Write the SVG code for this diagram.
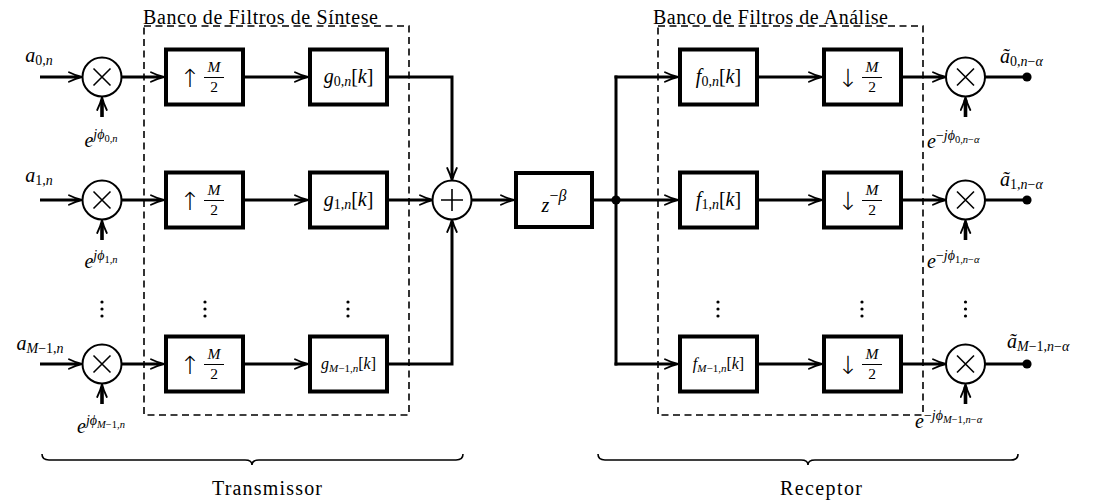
<svg xmlns="http://www.w3.org/2000/svg" width="1096" height="501" viewBox="0 0 1096 501">
<style>
.t{font-family:"Liberation Serif","DejaVu Serif",serif;font-size:20px;fill:#000}
.i{font-style:italic}
.s{font-size:14px}
.ss{font-size:10.5px}
.f{font-size:15.5px}
.sm{font-size:16px}
.sms{font-size:11px}
.ar{font-family:"DejaVu Sans",sans-serif;font-size:25px;font-weight:200;fill:#000}
.box{fill:#fff;stroke:#000;stroke-width:4}
.op{fill:#fff;stroke:#000;stroke-width:2}
.sym{stroke:#000;stroke-width:1.6;fill:none}
.dash{fill:none;stroke:#000;stroke-width:1.6;stroke-dasharray:7 4.5}
.c{fill:none;stroke:#000;stroke-width:3;marker-end:url(#arr)}
.cn{fill:none;stroke:#000;stroke-width:3}
.ph{fill:none;stroke:#000;stroke-width:3.6;marker-end:url(#arr)}
.brace{fill:none;stroke:#000;stroke-width:1.6}
.bar{stroke:#000;stroke-width:1}
</style>
<defs>
<marker id="arr" viewBox="0 0 16 12" markerUnits="userSpaceOnUse" markerWidth="16" markerHeight="12" refX="11" refY="6" orient="auto">
<path d="M1,1.2 Q8,4.6 14,6 Q8,7.4 1,10.8" fill="none" stroke="#000" stroke-width="1.8" stroke-linecap="round"/>
<path d="M6,4.5 L14,6 L6,7.5 Z" fill="#000"/>
</marker>
</defs>

<g id="synthesis-bank">
<rect class="dash" x="144" y="26" width="265" height="389"/>
<text class="t" x="143" y="24" textLength="235">Banco de Filtros de Síntese</text>
</g>
<g id="analysis-bank">
<rect class="dash" x="658" y="26" width="265" height="389"/>
<text class="t" x="653" y="24" textLength="235">Banco de Filtros de Análise</text>
</g>

<g id="connectors">
<path class="c" d="M40,77 H79"/>
<path class="c" d="M40,200 H79"/>
<path class="c" d="M40,364 H79"/>
<path class="ph" d="M102,117 V100"/>
<path class="ph" d="M102,240 V223"/>
<path class="ph" d="M102,404 V387"/>
<path class="c" d="M121.5,77 H161"/>
<path class="c" d="M121.5,200 H161"/>
<path class="c" d="M121.5,364 H161"/>
<path class="c" d="M245,77 H305"/>
<path class="c" d="M245,200 H305"/>
<path class="c" d="M245,364 H305"/>
<path class="c" d="M389,77 H452 V178"/>
<path class="c" d="M389,200 H430"/>
<path class="c" d="M389,364 H452 V222"/>
<path class="c" d="M471.5,200 H511"/>
<path class="cn" d="M594,200 H616"/>
<path class="cn" d="M616,75.5 V365.5"/>
<path class="c" d="M614.5,77 H675"/>
<path class="c" d="M616,200 H675"/>
<path class="c" d="M614.5,364 H675"/>
<path class="c" d="M759,77 H819"/>
<path class="c" d="M759,200 H819"/>
<path class="c" d="M759,364 H819"/>
<path class="c" d="M903,77 H943"/>
<path class="c" d="M903,200 H943"/>
<path class="c" d="M903,364 H943"/>
<path class="cn" d="M985,77 H1027"/>
<path class="cn" d="M985,200 H1027"/>
<path class="cn" d="M985,364 H1027"/>
<path class="ph" d="M965.5,117 V100"/>
<path class="ph" d="M965.5,240 V223"/>
<path class="ph" d="M965.5,404 V387"/>
<circle cx="616" cy="200" r="4.6" fill="#000"/>
<circle cx="1027" cy="77" r="4.6" fill="#000"/>
<circle cx="1027" cy="200" r="4.6" fill="#000"/>
<circle cx="1027" cy="364" r="4.6" fill="#000"/>
</g>

<g id="inputs">
<text class="t" x="39" y="62" text-anchor="middle"><tspan class="i">a</tspan><tspan class="s" dy="3">0,</tspan><tspan class="s i">n</tspan></text>
<text class="t" x="39" y="182" text-anchor="middle"><tspan class="i">a</tspan><tspan class="s" dy="3">1,</tspan><tspan class="s i">n</tspan></text>
<text class="t" x="40" y="350" text-anchor="middle"><tspan class="i">a</tspan><tspan class="s i" dy="3">M</tspan><tspan class="s">−1,</tspan><tspan class="s i">n</tspan></text>
</g>

<g id="mult-tx-0">
<circle class="op" cx="102" cy="77" r="19.5"/>
<path class="sym" d="M93.5,68.5 L110.5,85.5 M110.5,68.5 L93.5,85.5"/>
<text class="t" x="101" y="147" text-anchor="middle"><tspan class="i">e</tspan><tspan class="s i" dy="-8">jϕ</tspan><tspan class="ss" dy="3">0,</tspan><tspan class="ss i">n</tspan></text>
</g>
<g id="mult-tx-1">
<circle class="op" cx="102" cy="200" r="19.5"/>
<path class="sym" d="M93.5,191.5 L110.5,208.5 M110.5,191.5 L93.5,208.5"/>
<text class="t" x="101" y="268" text-anchor="middle"><tspan class="i">e</tspan><tspan class="s i" dy="-8">jϕ</tspan><tspan class="ss" dy="3">1,</tspan><tspan class="ss i">n</tspan></text>
</g>
<g id="mult-tx-2">
<circle class="op" cx="102" cy="364" r="19.5"/>
<path class="sym" d="M93.5,355.5 L110.5,372.5 M110.5,355.5 L93.5,372.5"/>
<text class="t" x="101" y="433" text-anchor="middle"><tspan class="i">e</tspan><tspan class="s i" dy="-8">jϕ</tspan><tspan class="ss i" dy="3">M</tspan><tspan class="ss">−1,</tspan><tspan class="ss i">n</tspan></text>
</g>

<g id="up-0">
<rect class="box" x="166" y="49.5" width="77" height="55"/>
<text class="ar" x="190" y="87" text-anchor="middle">↑</text>
<text class="t f i" x="214" y="72" text-anchor="middle">M</text>
<line class="bar" x1="204" y1="77.5" x2="224" y2="77.5"/>
<text class="t f" x="214" y="92" text-anchor="middle">2</text>
</g>
<g id="up-1">
<rect class="box" x="166" y="172.5" width="77" height="55"/>
<text class="ar" x="190" y="210" text-anchor="middle">↑</text>
<text class="t f i" x="214" y="195" text-anchor="middle">M</text>
<line class="bar" x1="204" y1="200.5" x2="224" y2="200.5"/>
<text class="t f" x="214" y="215" text-anchor="middle">2</text>
</g>
<g id="up-2">
<rect class="box" x="166" y="336.5" width="77" height="55"/>
<text class="ar" x="190" y="374" text-anchor="middle">↑</text>
<text class="t f i" x="214" y="359" text-anchor="middle">M</text>
<line class="bar" x1="204" y1="364.5" x2="224" y2="364.5"/>
<text class="t f" x="214" y="379" text-anchor="middle">2</text>
</g>

<g id="g-0">
<rect class="box" x="310" y="49.5" width="77" height="55"/>
<text class="t" x="348.5" y="83" text-anchor="middle"><tspan class="i">g</tspan><tspan class="s" dy="3">0,</tspan><tspan class="s i">n</tspan><tspan dy="-3">[</tspan><tspan class="i">k</tspan><tspan>]</tspan></text>
</g>
<g id="g-1">
<rect class="box" x="310" y="172.5" width="77" height="55"/>
<text class="t" x="348.5" y="206" text-anchor="middle"><tspan class="i">g</tspan><tspan class="s" dy="3">1,</tspan><tspan class="s i">n</tspan><tspan dy="-3">[</tspan><tspan class="i">k</tspan><tspan>]</tspan></text>
</g>
<g id="g-2">
<rect class="box" x="310" y="336.5" width="77" height="55"/>
<text class="t sm" x="348.5" y="369" text-anchor="middle"><tspan class="i">g</tspan><tspan class="sms i" dy="2.5">M</tspan><tspan class="sms">−1,</tspan><tspan class="sms i">n</tspan><tspan dy="-2.5">[</tspan><tspan class="i">k</tspan><tspan>]</tspan></text>
</g>

<g id="adder">
<circle class="op" cx="452" cy="200" r="19.5"/>
<path class="sym" d="M441,200 H463 M452,189 V211"/>
</g>

<g id="delay">
<rect class="box" x="516" y="173" width="76" height="54"/>
<text class="t" x="554" y="212" text-anchor="middle" font-size="23"><tspan class="i">z</tspan><tspan font-size="16" dy="-11">−</tspan><tspan font-size="16" class="i">β</tspan></text>
</g>

<g id="f-0">
<rect class="box" x="680" y="49.5" width="77" height="55"/>
<text class="t" x="718.5" y="83" text-anchor="middle"><tspan class="i">f</tspan><tspan class="s" dy="3">0,</tspan><tspan class="s i">n</tspan><tspan dy="-3">[</tspan><tspan class="i">k</tspan><tspan>]</tspan></text>
</g>
<g id="f-1">
<rect class="box" x="680" y="172.5" width="77" height="55"/>
<text class="t" x="718.5" y="206" text-anchor="middle"><tspan class="i">f</tspan><tspan class="s" dy="3">1,</tspan><tspan class="s i">n</tspan><tspan dy="-3">[</tspan><tspan class="i">k</tspan><tspan>]</tspan></text>
</g>
<g id="f-2">
<rect class="box" x="680" y="336.5" width="77" height="55"/>
<text class="t sm" x="718.5" y="369" text-anchor="middle"><tspan class="i">f</tspan><tspan class="sms i" dy="2.5">M</tspan><tspan class="sms">−1,</tspan><tspan class="sms i">n</tspan><tspan dy="-2.5">[</tspan><tspan class="i">k</tspan><tspan>]</tspan></text>
</g>

<g id="down-0">
<rect class="box" x="824" y="49.5" width="77" height="55"/>
<text class="ar" x="848" y="87" text-anchor="middle">↓</text>
<text class="t f i" x="872" y="72" text-anchor="middle">M</text>
<line class="bar" x1="862" y1="77.5" x2="882" y2="77.5"/>
<text class="t f" x="872" y="92" text-anchor="middle">2</text>
</g>
<g id="down-1">
<rect class="box" x="824" y="172.5" width="77" height="55"/>
<text class="ar" x="848" y="210" text-anchor="middle">↓</text>
<text class="t f i" x="872" y="195" text-anchor="middle">M</text>
<line class="bar" x1="862" y1="200.5" x2="882" y2="200.5"/>
<text class="t f" x="872" y="215" text-anchor="middle">2</text>
</g>
<g id="down-2">
<rect class="box" x="824" y="336.5" width="77" height="55"/>
<text class="ar" x="848" y="374" text-anchor="middle">↓</text>
<text class="t f i" x="872" y="359" text-anchor="middle">M</text>
<line class="bar" x1="862" y1="364.5" x2="882" y2="364.5"/>
<text class="t f" x="872" y="379" text-anchor="middle">2</text>
</g>

<g id="mult-rx-0">
<circle class="op" cx="965.5" cy="77" r="19.5"/>
<path class="sym" d="M957,68.5 L974,85.5 M974,68.5 L957,85.5"/>
<text class="t" x="927" y="148"><tspan class="i">e</tspan><tspan class="s" dy="-8">−</tspan><tspan class="s i">jϕ</tspan><tspan class="ss" dy="3">0,</tspan><tspan class="ss i">n</tspan><tspan class="ss">−</tspan><tspan class="ss i">α</tspan></text>
</g>
<g id="mult-rx-1">
<circle class="op" cx="965.5" cy="200" r="19.5"/>
<path class="sym" d="M957,191.5 L974,208.5 M974,191.5 L957,208.5"/>
<text class="t" x="927" y="268"><tspan class="i">e</tspan><tspan class="s" dy="-8">−</tspan><tspan class="s i">jϕ</tspan><tspan class="ss" dy="3">1,</tspan><tspan class="ss i">n</tspan><tspan class="ss">−</tspan><tspan class="ss i">α</tspan></text>
</g>
<g id="mult-rx-2">
<circle class="op" cx="965.5" cy="364" r="19.5"/>
<path class="sym" d="M957,355.5 L974,372.5 M974,355.5 L957,372.5"/>
<text class="t" x="915" y="428"><tspan class="i">e</tspan><tspan class="s" dy="-8">−</tspan><tspan class="s i">jϕ</tspan><tspan class="ss i" dy="3">M</tspan><tspan class="ss">−1,</tspan><tspan class="ss i">n</tspan><tspan class="ss">−</tspan><tspan class="ss i">α</tspan></text>
</g>

<g id="outputs">
<text class="t" x="1000" y="63"><tspan class="i">ã</tspan><tspan class="s" dy="3">0,</tspan><tspan class="s i">n</tspan><tspan class="s">−</tspan><tspan class="s i">α</tspan></text>
<text class="t" x="1000" y="186"><tspan class="i">ã</tspan><tspan class="s" dy="3">1,</tspan><tspan class="s i">n</tspan><tspan class="s">−</tspan><tspan class="s i">α</tspan></text>
<text class="t" x="1007" y="348"><tspan class="i">ã</tspan><tspan class="s i" dy="3">M</tspan><tspan class="s">−1,</tspan><tspan class="s i">n</tspan><tspan class="s">−</tspan><tspan class="s i">α</tspan></text>
</g>

<g id="vdots" fill="#000">
<circle cx="102" cy="302" r="1.6"/><circle cx="102" cy="309" r="1.6"/><circle cx="102" cy="316" r="1.6"/>
<circle cx="205" cy="302" r="1.6"/><circle cx="205" cy="309" r="1.6"/><circle cx="205" cy="316" r="1.6"/>
<circle cx="348" cy="302" r="1.6"/><circle cx="348" cy="309" r="1.6"/><circle cx="348" cy="316" r="1.6"/>
<circle cx="718" cy="302" r="1.6"/><circle cx="718" cy="309" r="1.6"/><circle cx="718" cy="316" r="1.6"/>
<circle cx="862" cy="302" r="1.6"/><circle cx="862" cy="309" r="1.6"/><circle cx="862" cy="316" r="1.6"/>
<circle cx="965.5" cy="302" r="1.6"/><circle cx="965.5" cy="309" r="1.6"/><circle cx="965.5" cy="316" r="1.6"/>
</g>

<g id="transmissor">
<path class="brace" d="M42,454 Q42,460 49,460 H245 Q252,460 252,465 Q252,460 259,460 H456 Q463,460 463,454"/>
<text class="t" x="212" y="495" textLength="110">Transmissor</text>
</g>
<g id="receptor">
<path class="brace" d="M598,454 Q598,460 605,460 H801 Q808,460 808,465 Q808,460 815,460 H1011 Q1018,460 1018,454"/>
<text class="t" x="780" y="495" textLength="82">Receptor</text>
</g>
</svg>
